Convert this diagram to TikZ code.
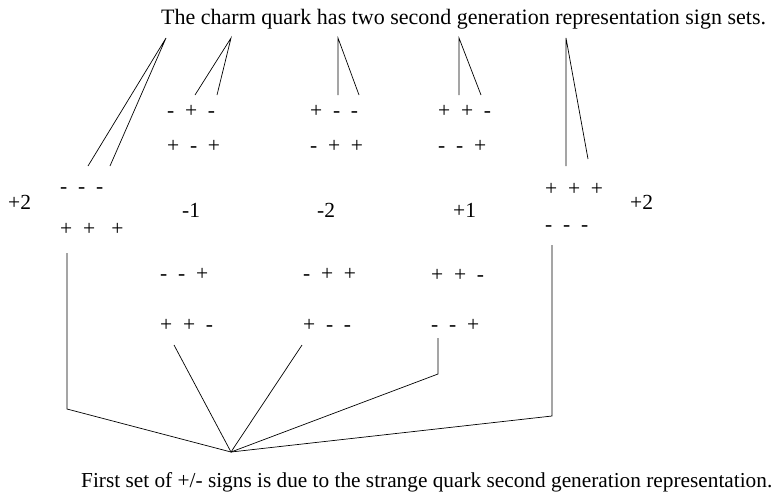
\documentclass[tikz,border=0pt]{standalone}
\usepackage{fontspec}
\setmainfont{Liberation Serif}
\usepackage{tikz}
\usetikzlibrary{positioning}
\definecolor{ink}{HTML}{000000}
\tikzset{
  lbl/.style={anchor=base west, inner sep=0pt, text=ink,
              font=\fontsize{21.5}{26}\selectfont},
  wire/.style={draw=ink, line width=0.7pt}
}

\begin{document}
\begin{tikzpicture}[x=1pt, y=-1pt]
    \useasboundingbox (0,0) rectangle (775,496);
    % captions
    \node[lbl, font=\fontsize{22}{26}\selectfont] (charm) at (161,24)
      {The charm quark has two second generation representation sign sets.};
    \node[lbl, font=\fontsize{21.3}{26}\selectfont] (strange) at (81,487)
      {First set of +/- signs is due to the strange quark second generation representation.};
    % sign rows
    \foreach \x/\y/\s [count=\i] in
      {60/193/-~~-~~-, 60/235/+~~+~~~+,
       167/117/-~~+~~-, 167/152/+~~-~~+,
       310/117/+~~-~~-, 310/152/-~~+~~+,
       438/117/+~~+~~-, 438/152/-~~-~~+,
       545/195/+~~+~~+, 545/231/-~~-~~-,
       160/280/-~~-~~+, 160/331/+~~+~~-,
       303/280/-~~+~~+, 303/331/+~~-~~-,
       431/281/+~~+~~-, 431/331/-~~-~~+}
      {\node[lbl] (row\i) at (\x,\y) {\s};}
    % charges
    \foreach \x/\y/\q [count=\i] in
      {8/209/+2, 182/217/-1, 317/217/-2, 453/217/+1, 630/209/+2}
      {\node[lbl] (chg\i) at (\x,\y) {\q};}
    % upper fans from the charm caption
    \foreach \ax/\bx/\by/\cx/\cy [count=\i] in
      {166/88/166/110/166, 231/195/95/217/95, 338/338/95/359/95,
       459/459/95/481/95, 566/566/166/588/159}
      {\coordinate (up\i) at (\ax,38);
       \coordinate (ul\i) at (\bx,\by);
       \coordinate (ur\i) at (\cx,\cy);
       \draw[wire] (ul\i) -- (up\i) -- (ur\i);}
    % lower fan to the strange caption
    \coordinate (hub) at (231,452);
    \coordinate (lo1) at (67,253);  \coordinate (bend1) at (67,409);
    \coordinate (lo2) at (174,345);
    \coordinate (lo3) at (302,345);
    \coordinate (lo4) at (438,338); \coordinate (bend4) at (438,374);
    \coordinate (lo5) at (552,245); \coordinate (bend5) at (552,416);
    \draw[wire] (lo1) -- (bend1) -- (hub);
    \draw[wire] (lo2) -- (hub) -- (lo3);
    \draw[wire] (hub) -- (bend4) -- (lo4);
    \draw[wire] (hub) -- (bend5) -- (lo5);
\end{tikzpicture}
\end{document}
